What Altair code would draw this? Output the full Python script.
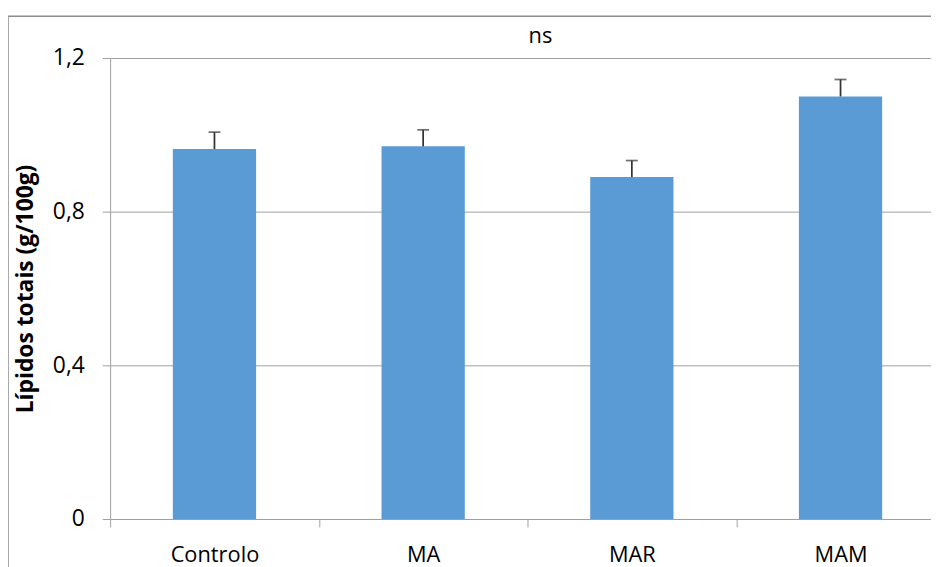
import altair as alt
import pandas as pd

categories = ["Controlo", "MA", "MAR", "MAM"]
means = [0.963, 0.970, 0.890, 1.100]
errors = [0.044, 0.043, 0.043, 0.044]
y_ticks = [0, 0.4, 0.8, 1.2]
title_text = ["ns"]

df = pd.DataFrame({"grupo": categories, "media": means, "erro": errors})
df["topo"] = df["media"] + df["erro"]

FONT = "Open Sans"
GRID = "#A0A0A0"
BAR = "#5B9BD5"
ERR = "#333333"

x_enc = alt.X(
    "grupo:N",
    sort=categories,
    title=None,
    scale=alt.Scale(range=[0, 842], paddingInner=0, paddingOuter=0),
    axis=alt.Axis(
        labelAngle=0, labelFont=FONT, labelFontSize=22, labelColor="#000000",
        labelBaseline="alphabetic", labelPadding=35,
        tickBand="extent", tickSize=8, tickColor=GRID, tickWidth=1,
        domainColor=GRID, domainWidth=1, grid=False,
    ),
)

y_enc = alt.Y(
    "media:Q",
    title="Lípidos totais (g/100g)",
    scale=alt.Scale(domain=[0, 1.2], nice=False, zero=True),
    axis=alt.Axis(
        values=y_ticks,
        labelExpr="datum.value == 0 ? '0' : replace(format(datum.value, '.1f'), '.', ',')",
        labelFont=FONT, labelFontSize=23, labelColor="#000000", labelPadding=18,
        tickSize=8, tickColor=GRID, tickWidth=1,
        domainColor=GRID, domainWidth=1,
        grid=True, gridColor=GRID, gridWidth=1,
        titleFont=FONT, titleFontSize=23, titleFontWeight="bold", titleColor="#000000",
        titleAngle=270, titleX=-78, titleY=232.5, titleBaseline="alphabetic", titleAlign="center",
    ),
)

border = alt.Chart(pd.DataFrame({"a": [0]})).mark_rect(
    fillOpacity=0, stroke="#8C8C8C", strokeWidth=1.5
).encode(
    x=alt.value(-103), x2=alt.value(1400), y=alt.value(-42), y2=alt.value(900)
)

bars = alt.Chart(df).mark_bar(width=84, color=BAR).encode(x=x_enc, y=y_enc)

rules = alt.Chart(df).mark_rule(color=ERR, strokeWidth=1.75).encode(
    x=alt.X("grupo:N", sort=categories), y="media:Q", y2="topo:Q"
)

caps = alt.Chart(df).mark_tick(color=ERR, thickness=1.75, size=12).encode(
    x=alt.X("grupo:N", sort=categories), y="topo:Q"
)

title = alt.Chart(pd.DataFrame({"t": title_text})).mark_text(
    font=FONT, fontSize=22, color="#000000", align="center", baseline="alphabetic"
).encode(text="t:N", x=alt.value(434), y=alt.value(-15))

chart = alt.layer(border, bars, rules, caps, title).properties(
    width=828,
    height=465,
    padding={"left": 103, "top": 48, "right": 0, "bottom": 46},
    autosize="none",
).configure_view(stroke=None)

chart.save("out.html", embed_options={"renderer": "svg", "actions": False})
